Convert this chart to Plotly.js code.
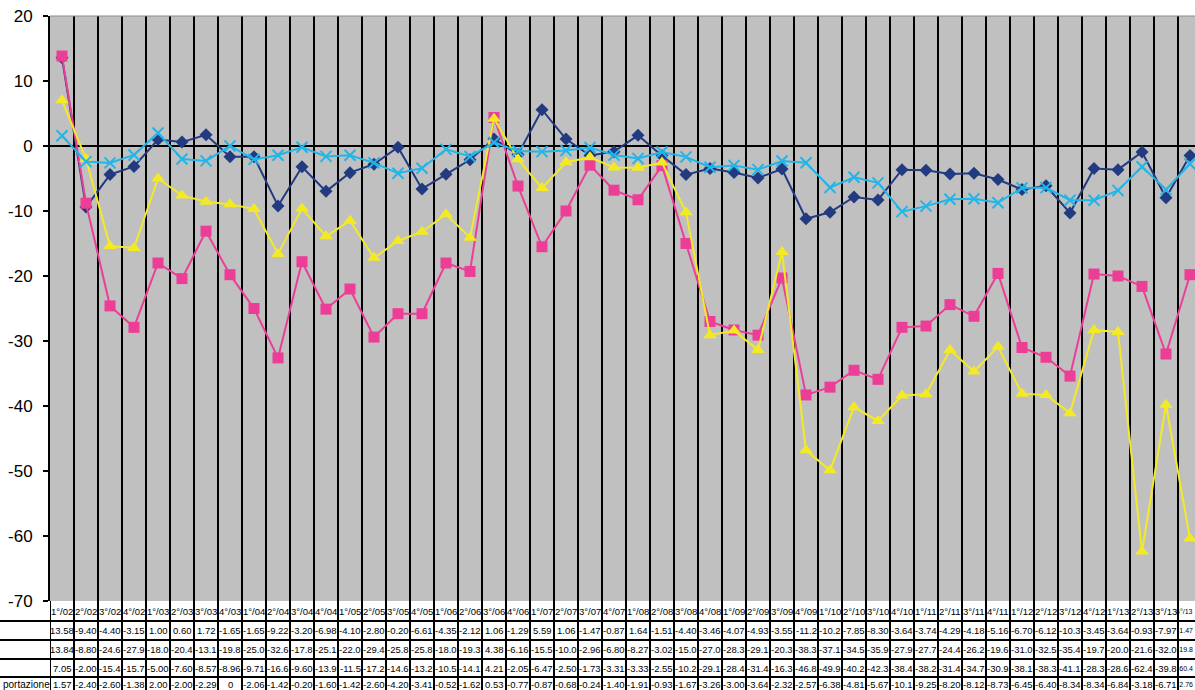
<!DOCTYPE html>
<html>
<head>
<meta charset="utf-8">
<script src="https://cdn.plot.ly/plotly-3.0.1.min.js"></script>
<style>
html, body { margin: 0; padding: 0; overflow: hidden; background: #ffffff; }
#chart { width: 1210px; height: 690px; }
</style>
</head>
<body>
<div id="chart"></div>
<script>
// ---- data ----
const quarters = [
  "1°/02","2°/02","3°/02","4°/02","1°/03","2°/03","3°/03","4°/03",
  "1°/04","2°/04","3°/04","4°/04","1°/05","2°/05","3°/05","4°/05",
  "1°/06","2°/06","3°/06","4°/06","1°/07","2°/07","3°/07","4°/07",
  "1°/08","2°/08","3°/08","4°/08","1°/09","2°/09","3°/09","4°/09",
  "1°/10","2°/10","3°/10","4°/10","1°/11","2°/11","3°/11","4°/11",
  "1°/12","2°/12","3°/12","4°/12","1°/13","2°/13","3°/13","4°/13"
];
const series1 = [13.58,-9.40,-4.40,-3.15,1.00,0.60,1.72,-1.65,-1.65,-9.22,-3.20,-6.98,-4.10,-2.80,-0.20,-6.61,
  -4.35,-2.12,1.06,-1.29,5.59,1.06,-1.47,-0.87,1.64,-1.51,-4.40,-3.46,-4.07,-4.93,-3.55,-11.2,
  -10.2,-7.85,-8.30,-3.64,-3.74,-4.29,-4.18,-5.16,-6.70,-6.12,-10.3,-3.45,-3.64,-0.93,-7.97,-1.47];
const series2 = [13.84,-8.80,-24.6,-27.9,-18.0,-20.4,-13.1,-19.8,-25.0,-32.6,-17.8,-25.1,-22.0,-29.4,-25.8,-25.8,
  -18.0,-19.3,4.38,-6.16,-15.5,-10.0,-2.96,-6.80,-8.27,-3.02,-15.0,-27.0,-28.3,-29.1,-20.3,-38.3,
  -37.1,-34.5,-35.9,-27.9,-27.7,-24.4,-26.2,-19.6,-31.0,-32.5,-35.4,-19.7,-20.0,-21.6,-32.0,-19.8];
const series3 = [7.05,-2.00,-15.4,-15.7,-5.00,-7.60,-8.57,-8.96,-9.71,-16.6,-9.60,-13.9,-11.5,-17.2,-14.6,-13.2,
  -10.5,-14.1,4.21,-2.05,-6.47,-2.50,-1.73,-3.31,-3.33,-2.55,-10.2,-29.1,-28.4,-31.4,-16.3,-46.8,
  -49.9,-40.2,-42.3,-38.4,-38.2,-31.4,-34.7,-30.9,-38.1,-38.3,-41.1,-28.3,-28.6,-62.4,-39.8,-60.4];
const series4 = [1.57,-2.40,-2.60,-1.38,2.00,-2.00,-2.29,0,-2.06,-1.42,-0.20,-1.60,-1.42,-2.60,-4.20,-3.41,
  -0.52,-1.62,0.53,-0.77,-0.87,-0.68,-0.24,-1.40,-1.91,-0.93,-1.67,-3.26,-3.00,-3.64,-2.32,-2.57,
  -6.38,-4.81,-5.67,-10.1,-9.25,-8.20,-8.12,-8.73,-6.45,-6.40,-8.34,-8.34,-6.84,-3.18,-6.71,-2.76];
const rowLabels = ["", "", "", "portazione"];
const yTicks = [20,10,0,-10,-20,-30,-40,-50,-60,-70];

// ---- styles ----
const colors = ["#223A80", "#EC3E96", "#F3EA25", "#22B5E8"];
const symbols = ["diamond", "square", "triangle-up", "x-thin"];
const sizes = [10, 11, 12, 11];
const allSeries = [series1, series2, series3, series4];

const traces = allSeries.map((s, i) => ({
  type: "scatter",
  mode: "lines+markers",
  x: quarters,
  y: s,
  name: "Serie " + (i + 1),
  line: { color: colors[i], width: 2 },
  marker: i === 3
    ? { symbol: symbols[i], size: sizes[i], color: colors[i], line: { color: colors[i], width: 2 } }
    : { symbol: symbols[i], size: sizes[i], color: colors[i], line: { width: 0 } },
  cliponaxis: true,
  showlegend: false
}));

// geometry helpers (plot area: top 16px, bottom 601px, left 50px)
const PT = 16, PB = 601, PL = 50, PW = 1152;
const PH = PB - PT;
const yp = py => (PB - py) / PH;
const xp = px => (px - PL) / PW;

function fmt(v) {
  if (v === 0) return "0";
  return v.toFixed(2).slice(0, 5);
}

const FONT = "Liberation Sans, Arial, sans-serif";
const shapes = [];
const annotations = [];
// top frame line
shapes.push({ type: "line", xref: "paper", yref: "paper", x0: 0, x1: 1, y0: 1, y1: 1,
  line: { color: "#8a8a8a", width: 1 } });
// table horizontal lines
const hLines = [621, 640, 659, 677];
hLines.forEach(py => shapes.push({ type: "line", xref: "paper", yref: "paper",
  x0: xp(0), x1: 1, y0: yp(py), y1: yp(py), line: { color: "#000", width: 2 } }));
// table vertical lines
for (let k = 0; k <= quarters.length; k++) {
  shapes.push({ type: "line", xref: "x", yref: "paper", x0: k - 0.5, x1: k - 0.5,
    y0: yp(601), y1: yp(700), line: { color: "#000", width: 2 } });
}
const last = quarters.length - 1;
function cell(i, py, text) {
  const base = { yref: "paper", y: yp(py), text: text, showarrow: false, yanchor: "middle",
    font: { family: FONT, size: 9.5, color: "#000" } };
  if (i === last) return Object.assign(base, { xref: "paper", x: xp(1195), xanchor: "right",
    font: { family: FONT, size: 7, color: "#000" } });
  return Object.assign(base, { xref: "x", x: i, xanchor: "center" });
}
// header row + data rows
const rowY = [611, 630, 649, 668, 684];
quarters.forEach((q, i) => annotations.push(cell(i, rowY[0], q)));
allSeries.forEach((s, r) => {
  s.forEach((v, i) => annotations.push(cell(i, rowY[r + 1], fmt(v))));
  if (rowLabels[r]) annotations.push({ xref: "paper", yref: "paper", x: xp(1), y: yp(rowY[r + 1]),
    text: rowLabels[r], showarrow: false, xanchor: "left", yanchor: "middle",
    font: { family: FONT, size: 10, color: "#000" } });
});

const layout = {
  width: 1210, height: 690,
  margin: { l: PL, r: 1210 - PL - PW, t: PT, b: 690 - PB, pad: 0 },
  paper_bgcolor: "#ffffff",
  plot_bgcolor: "#C0C0C0",
  showlegend: false,
  xaxis: {
    type: "category", categoryorder: "array", categoryarray: quarters,
    range: [-0.5, quarters.length - 0.5],
    showticklabels: false, ticks: "", tickson: "boundaries",
    showgrid: true, gridcolor: "#000", gridwidth: 2,
    zeroline: false, showline: false, fixedrange: true
  },
  yaxis: {
    range: [-70, 20], tickvals: yTicks, ticktext: yTicks.map(String),
    ticks: "outside", ticklen: 5, tickwidth: 1.5, tickcolor: "#000",
    ticklabelstandoff: 7,
    tickfont: { family: FONT, size: 17, color: "#000" },
    showgrid: false, zeroline: true, zerolinecolor: "#000", zerolinewidth: 2,
    showline: true, linecolor: "#000", linewidth: 2, fixedrange: true
  },
  shapes: shapes,
  annotations: annotations
};

Plotly.newPlot("chart", traces, layout, { staticPlot: true, displayModeBar: false });
</script>
</body>
</html>
